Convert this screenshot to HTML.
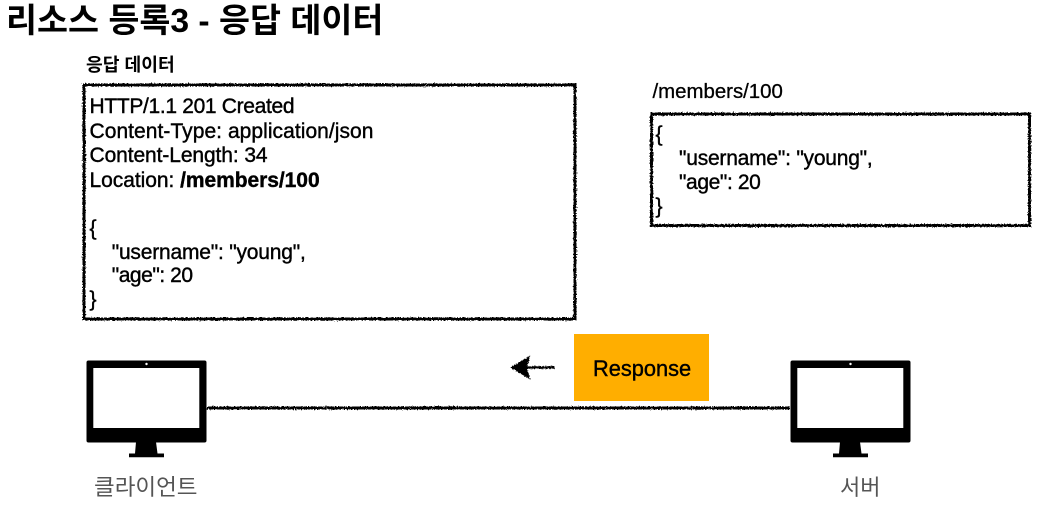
<!DOCTYPE html>
<html><head><meta charset="utf-8">
<style>
html,body{margin:0;padding:0;background:#fff}
#p{position:relative;width:1041px;height:519px;overflow:hidden;background:#fff;font-family:"Liberation Sans","Noto Sans CJK KR",sans-serif;color:#000}
.t{position:absolute;white-space:pre;line-height:1}
.l{position:absolute;white-space:pre;font-size:21px;line-height:24px;-webkit-text-stroke:.4px #000}
svg{position:absolute;left:0;top:0}
</style></head><body><div id="p">
<svg width="1041" height="519" viewBox="0 0 1041 519">
<defs><filter id="r" filterUnits="userSpaceOnUse" x="0" y="0" width="1041" height="519" color-interpolation-filters="sRGB"><feTurbulence type="fractalNoise" baseFrequency="0.7" numOctaves="2" seed="3"/><feDisplacementMap in="SourceGraphic" scale="3" xChannelSelector="R" yChannelSelector="G"/></filter></defs>
<g filter="url(#r)" fill="none" stroke="#000" stroke-width="3">
<rect x="84" y="85" width="491" height="234"/>
<rect x="651.500" y="114" width="378" height="111.500"/>
<path d="M207 408H790"/>
<path d="M555 367.500H526" stroke-width="2.500"/>
<path d="M512 367.500L529 357L526 367.500L529 378Z" fill="#000" stroke-width="1.500"/>
</g>
<rect x="574" y="334" width="135" height="67" fill="#ffae00"/>
<g id="m1">
<rect x="86.500" y="360.500" width="120" height="82" rx="2" fill="#000"/>
<rect x="93.300" y="368" width="106" height="60" fill="#fff"/>
<circle cx="146.500" cy="364" r="1.200" fill="#fff"/>
<path d="M136 442H156L157.500 453.500H164V457.300H129V453.500H135Z" fill="#000"/>
</g>
<use href="#m1" x="704"/>
</svg>
<div class="t" style="left:6px;top:4.500px;font-size:33.700px;font-weight:700">리소스 등록3 - 응답 데이터</div>
<div class="t" style="left:86px;top:55.500px;font-size:18.200px;font-weight:700">응답 데이터</div>
<div class="l" style="left:89.500px;top:95px;letter-spacing:-.33px">HTTP/1.1 201 Created</div>
<div class="l" style="left:89.500px;top:119.500px;letter-spacing:.05px">Content-Type: application/json</div>
<div class="l" style="left:89.500px;top:143.500px;letter-spacing:-.1px">Content-Length: 34</div>
<div class="l" style="left:89.500px;top:168.500px;letter-spacing:-.05px">Location: <b>/members/100</b></div>
<div class="l" style="left:89.500px;top:216.500px">{</div>
<div class="l" style="left:111.700px;top:240.500px;letter-spacing:-.2px">"username": "young",</div>
<div class="l" style="left:111.700px;top:264px;letter-spacing:-.45px">"age": 20</div>
<div class="l" style="left:89.500px;top:287.500px">}</div>
<div class="t" style="left:652.500px;top:81.500px;font-size:20.400px;-webkit-text-stroke:.3px #000">/members/100</div>
<div class="l" style="left:655.500px;top:123px">{</div>
<div class="l" style="left:679px;top:147px;letter-spacing:-.22px">"username": "young",</div>
<div class="l" style="left:679px;top:170.500px;letter-spacing:-.4px">"age": 20</div>
<div class="l" style="left:655.500px;top:194.500px">}</div>
<div class="t" style="left:593px;top:358px;font-size:21.800px;-webkit-text-stroke:.4px #000">Response</div>
<div class="t" style="left:94px;top:477px;font-size:22.500px;color:#555">클라이언트</div>
<div class="t" style="left:840px;top:477px;font-size:22px;color:#555">서버</div>
</div></body></html>
